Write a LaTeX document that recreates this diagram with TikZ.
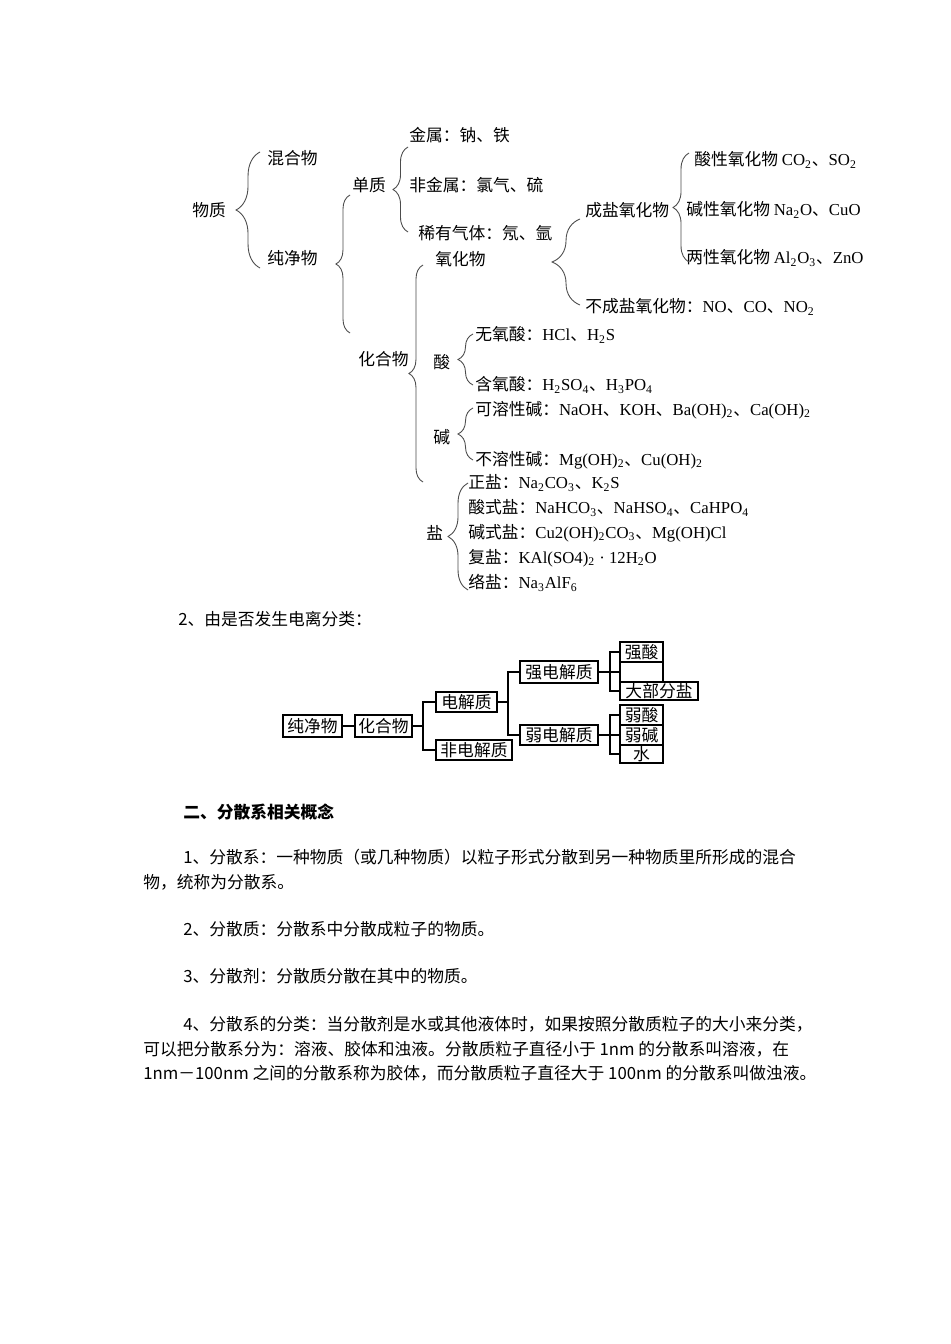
\documentclass[tikz,border=0pt]{standalone}
\usepackage{fontspec}
\setmainfont{Noto Sans CJK SC}
\newfontfamily\latinf{Liberation Serif}
\usetikzlibrary{positioning,calc,decorations.pathreplacing}
\newcommand\chem[1]{{\latinf #1}}
\newcommand\subn[1]{\textsubscript{#1}}

\begin{document}
\begin{tikzpicture}[x=0.6265pt, y=-0.6265pt,
    lbl/.style={anchor=west, inner sep=0pt, font=\fontsize{10.5pt}{12pt}\selectfont},
    brc/.style={decorate, decoration={brace, amplitude=#1}, draw=black!70, line width=0.55pt},
    box/.style={draw, line width=0.8pt, inner sep=0pt, font=\fontsize{10.5pt}{12pt}\selectfont},
    link/.style={line width=0.8pt}
]
    \useasboundingbox[fill=white] (0,0) rectangle (950,1344);

    % Classification of substances
    \node[lbl] (wz) at (192,210) {物质};
    \node[lbl] (hhw) at (267,158) {混合物};
    \node[lbl] (cjw) at (267,258) {纯净物};
    \node[lbl] (dz) at (352,185) {单质};
    \node[lbl] (js) at (409,135) {金属：钠、铁};
    \node[lbl] (fjs) at (409,185) {非金属：氯气、硫};
    \node[lbl] (xy) at (418,233) {稀有气体：氖、氩};
    \node[lbl] (yhw) at (435,259) {氧化物};
    \node[lbl] (hhw2) at (358,359) {化合物};

    % Oxides
    \node[lbl] (cy) at (585,210) {成盐氧化物};
    \node[lbl] (sx) at (694,160) {酸性氧化物 \chem{CO\subn2}、\chem{SO\subn2}};
    \node[lbl] (jx) at (686,210) {碱性氧化物 \chem{Na\subn2O}、\chem{CuO}};
    \node[lbl] (lx) at (686,258) {两性氧化物 \chem{Al\subn2O\subn3}、\chem{ZnO}};
    \node[lbl] (bcy) at (585,307) {不成盐氧化物：\chem{NO}、\chem{CO}、\chem{NO\subn2}};

    % Acids and bases
    \node[lbl] (s) at (433,362) {酸};
    \node[lbl] (wys) at (475,335) {无氧酸：\chem{HCl}、\chem{H\subn2S}};
    \node[lbl] (hys) at (475,385) {含氧酸：\chem{H\subn2SO\subn4}、\chem{H\subn3PO\subn4}};
    \node[lbl] (j) at (433,437) {碱};
    \node[lbl] (krj) at (475,410) {可溶性碱：\chem{NaOH}、\chem{KOH}、\chem{Ba(OH)\subn2}、\chem{Ca(OH)\subn2}};
    \node[lbl] (brj) at (475,460) {不溶性碱：\chem{Mg(OH)\subn2}、\chem{Cu(OH)\subn2}};

    % Salts
    \node[lbl] (y) at (426,533) {盐};
    \node[lbl] (zy) at (468,483) {正盐：\chem{Na\subn2CO\subn3}、\chem{K\subn2S}};
    \node[lbl] (ssy) at (468,508) {酸式盐：\chem{NaHCO\subn3}、\chem{NaHSO\subn4}、\chem{CaHPO\subn4}};
    \node[lbl] (jsy) at (468,533) {碱式盐：\chem{Cu2(OH)\subn2CO\subn3}、\chem{Mg(OH)Cl}};
    \node[lbl] (fy) at (468,558) {复盐：\chem{KAl(SO4)\subn2 · 12H\subn2O}};
    \node[lbl] (ly) at (468,583) {络盐：\chem{Na\subn3AlF\subn6}};

    % Braces
    \draw[brc=15pt] (260,268) -- (260,152);
    \draw[brc=8.8pt] (350,333) -- (350,195);
    \draw[brc=9.4pt] (408,232) -- (408,147);
    \draw[brc=8.8pt] (423,482) -- (423,265);
    \draw[brc=17.5pt] (580,305) -- (580,219);
    \draw[brc=10pt] (689,262) -- (689,153);
    \draw[brc=9.4pt] (473,385) -- (473,334);
    \draw[brc=9.4pt] (473,460) -- (473,408);
    \draw[brc=12.5pt] (468,590) -- (468,483);

    \node[lbl] (cap) at (178,619) {2、由是否发生电离分类：};

    % Electrolyte boxes
    \node[box, minimum width=37pt, minimum height=13.8pt] (p1) at (312.5,726) {纯净物};
    \node[box, minimum width=35.7pt, minimum height=13.8pt] (p2) at (383.5,726) {化合物};
    \node[box, minimum width=38.2pt, minimum height=12.5pt] (p3) at (466.5,702) {电解质};
    \node[box, minimum width=47.6pt, minimum height=12.5pt] (p4) at (474,750) {非电解质};
    \node[box, minimum width=48.9pt, minimum height=13.8pt] (p5) at (559,672) {强电解质};
    \node[box, minimum width=48.9pt, minimum height=12.5pt] (p6) at (559,735) {弱电解质};
    \node[box, minimum width=26.9pt, minimum height=12.5pt] (q1) at (641.5,652) {强酸};
    \node[box, minimum width=26.9pt, minimum height=12.5pt] (q2) at (641.5,672) {};
    \node[box, minimum width=48.9pt, minimum height=11.3pt] (q3) at (659,691) {大部分盐};
    \node[box, minimum width=26.9pt, minimum height=12.5pt] (q4) at (641.5,715) {弱酸};
    \node[box, minimum width=26.9pt, minimum height=12.5pt] (q5) at (641.5,735) {弱碱};
    \node[box, minimum width=26.9pt, minimum height=11.3pt] (q6) at (641.5,754) {水};

    \coordinate (j1) at (423,726);
    \coordinate (j2) at (508,702);
    \coordinate (j3) at (610,672);
    \coordinate (j4) at (610,735);

    \draw[link] (p1) -- (p2);
    \draw[link] (p2.east) -- (j1) |- (p3.west);
    \draw[link] (j1) |- (p4.west);
    \draw[link] (p3.east) -- (j2) |- (p5.west);
    \draw[link] (j2) |- (p6.west);
    \draw[link] (p5.east) -- (j3) |- (q1.west);
    \draw[link] (j3) -- (q2.west);
    \draw[link] (j3) |- (q3.west);
    \draw[link] (p6.east) -- (j4) |- (q4.west);
    \draw[link] (j4) -- (q5.west);
    \draw[link] (j4) |- (q6.west);

    % Dispersion systems
    \node[lbl, font=\fontsize{10.5pt}{12pt}\selectfont\bfseries] (hd) at (183,812) {二、分散系相关概念};
    \node[lbl] (t1a) at (183,857) {1、分散系：一种物质（或几种物质）以粒子形式分散到另一种物质里所形成的混合};
    \node[lbl] (t1b) at (143,882) {物，统称为分散系。};
    \node[lbl] (t2) at (183,929) {2、分散质：分散系中分散成粒子的物质。};
    \node[lbl] (t3) at (183,976) {3、分散剂：分散质分散在其中的物质。};
    \node[lbl] (t4a) at (183,1024) {4、分散系的分类：当分散剂是水或其他液体时，如果按照分散质粒子的大小来分类，};
    \node[lbl] (t4b) at (143,1049) {可以把分散系分为：溶液、胶体和浊液。分散质粒子直径小于 1nm 的分散系叫溶液，在};
    \node[lbl] (t4c) at (143,1073) {1nm－100nm 之间的分散系称为胶体，而分散质粒子直径大于 100nm 的分散系叫做浊液。};
\end{tikzpicture}
\end{document}
